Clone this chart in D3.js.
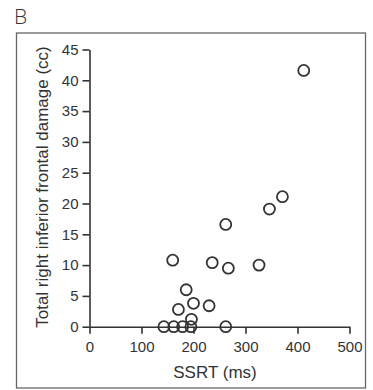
<!DOCTYPE html>
<html>
    <head>
        <meta charset= "utf-8">
        <script src= "https://cdn.jsdelivr.net/npm/d3@7"></script>
        <style>
            body { margin: 0; background: white; }
        </style>
        <script>
            // SSRT (ms) vs total right inferior frontal damage (cc)
            var ssrt   = [412, 262, 346, 371, 160, 236, 267, 326, 186, 171, 200, 230, 196, 143, 162, 179, 195, 262];
            var damage = [41.6, 16.6, 19.1, 21.1, 10.8, 10.4, 9.5, 10.0, 6.0, 2.8, 3.8, 3.4, 1.2, 0, 0, 0, 0, 0];

            var xTicks = [0, 100, 200, 300, 400, 500];
            var yTicks = [0, 5, 10, 15, 20, 25, 30, 35, 40, 45];

            const panelLabel = "B";
            const xTitle = "SSRT (ms)";
            const yTitle = "Total right inferior frontal damage (cc)";

            function makeSVG() {

                var svg = d3.select("#fig");

                const ink = "#333";
                const font = "'Liberation Sans', Arial, sans-serif";

                // panel letter and frame
                svg.append("text")
                   .attr("x", 14).attr("y", 24)
                   .attr("font-family", "'Open Sans', sans-serif")
                   .attr("font-weight", 300)
                   .attr("font-size", 21)
                   .attr("fill", ink)
                   .text(panelLabel);

                svg.append("rect")
                   .attr("x", 16.5).attr("y", 33)
                   .attr("width", 349).attr("height", 355)
                   .attr("fill", "none")
                   .attr("stroke", "#666")
                   .attr("stroke-width", 1.3);

                // X scale and axis
                const xSc = d3.scaleLinear()
                              .domain([0, 500])
                              .range([89.5, 349.5]);

                var xg = svg.append("g")
                            .attr("transform", "translate(0,326.7)")
                            .call(d3.axisBottom(xSc).tickValues(xTicks)
                                    .tickSize(7).tickSizeOuter(0).tickPadding(8));

                // Y scale and axis
                const ySc = d3.scaleLinear()
                              .domain([0, 45])
                              .range([326.7, 49.5]);

                var yg = svg.append("g")
                            .attr("transform", "translate(89.5,0)")
                            .call(d3.axisLeft(ySc).tickValues(yTicks)
                                    .tickSize(7).tickSizeOuter(0).tickPadding(4));

                [xg, yg].forEach(g => {
                    g.selectAll("path, line").attr("stroke", ink).attr("stroke-width", 1.6);
                    g.selectAll("text").attr("fill", ink)
                     .attr("font-family", font).attr("font-size", 15);
                });

                // titles
                svg.append("text")
                   .attr("x", 215).attr("y", 378)
                   .attr("text-anchor", "middle")
                   .attr("font-family", font).attr("font-size", 17)
                   .attr("fill", ink)
                   .text(xTitle);

                svg.append("text")
                   .attr("transform", "translate(47.5,187) rotate(-90)")
                   .attr("text-anchor", "middle")
                   .attr("font-family", font).attr("font-size", 17)
                   .attr("fill", ink)
                   .text(yTitle);

                // points
                svg.selectAll("circle")
                   .data(d3.zip(ssrt, damage))
                   .enter()
                   .append("circle")
                   .attr("r", 5.5)
                   .attr("cx", d => xSc(d[0]))
                   .attr("cy", d => ySc(d[1]))
                   .attr("fill", "none")
                   .attr("stroke", ink)
                   .attr("stroke-width", 1.8);
            }
        </script>
    </head>
    <body onload="makeSVG()">

        <svg id="fig" width="373" height="390" />

    </body>
</html>
